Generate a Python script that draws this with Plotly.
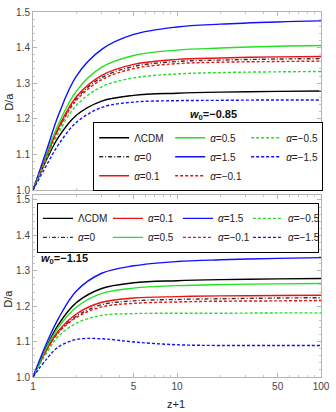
import plotly.graph_objects as go

# z+1 sample points
zp1 = [1, 1.25, 1.5, 2, 3, 5, 10, 20, 50, 100]

# LCDM reference (same in both panels)
lcdm = [1.0, 1.088, 1.148, 1.210, 1.250, 1.266, 1.272, 1.275, 1.277, 1.278]

# Top panel: w0 = -0.85
top_a0    = [1.0, 1.098, 1.172, 1.257, 1.316, 1.347, 1.361, 1.365, 1.368, 1.369]
top_a01   = [1.0, 1.100, 1.175, 1.262, 1.322, 1.353, 1.367, 1.371, 1.374, 1.375]
top_a05   = [1.0, 1.105, 1.185, 1.278, 1.345, 1.378, 1.393, 1.399, 1.404, 1.406]
top_a15   = [1.0, 1.115, 1.210, 1.320, 1.395, 1.437, 1.458, 1.466, 1.472, 1.475]
top_am01  = [1.0, 1.097, 1.169, 1.252, 1.310, 1.341, 1.355, 1.359, 1.361, 1.362]
top_am05  = [1.0, 1.092, 1.160, 1.238, 1.290, 1.315, 1.326, 1.330, 1.332, 1.333]
top_am15  = [1.0, 1.072, 1.127, 1.190, 1.232, 1.247, 1.251, 1.252, 1.253, 1.253]

# Bottom panel: w0 = -1.15
bot_a0    = [1.0, 1.078, 1.127, 1.172, 1.204, 1.215, 1.219, 1.221, 1.223, 1.224]
bot_a01   = [1.0, 1.080, 1.130, 1.178, 1.211, 1.223, 1.227, 1.229, 1.230, 1.231]
bot_a05   = [1.0, 1.085, 1.140, 1.197, 1.236, 1.251, 1.258, 1.261, 1.263, 1.264]
bot_a15   = [1.0, 1.098, 1.165, 1.243, 1.293, 1.314, 1.326, 1.331, 1.335, 1.337]
bot_am01  = [1.0, 1.077, 1.125, 1.168, 1.198, 1.208, 1.212, 1.214, 1.215, 1.216]
bot_am05  = [1.0, 1.070, 1.115, 1.152, 1.174, 1.179, 1.180, 1.180, 1.181, 1.181]
bot_am15  = [1.0, 1.052, 1.085, 1.106, 1.108, 1.099, 1.091, 1.089, 1.089, 1.089]

x_ticks = [1, 5, 10, 50, 100]
x_minor = [2, 3, 4, 6, 7, 8, 9, 20, 30, 40, 60, 70, 80, 90]

BLACK, RED, GREEN, BLUE = "#000000", "#ee1111", "#22e022", "#1010ff"
DASH = "3px,2px"
DASHDOT = "4px,2px,1px,2px"

FONT = "Liberation Sans, Arial, sans-serif"

# name, color, dash, top data, bottom data, top rank, bottom rank
series = [
    ("ΛCDM", BLACK, "solid", lcdm, lcdm, 1, 1),
    ("<i>α</i>=0", "#333333", DASHDOT, top_a0, bot_a0, 4, 5),
    ("<i>α</i>=0.1", RED, "solid", top_a01, bot_a01, 7, 2),
    ("<i>α</i>=0.5", GREEN, "solid", top_a05, bot_a05, 2, 6),
    ("<i>α</i>=1.5", BLUE, "solid", top_a15, bot_a15, 5, 3),
    ("<i>α</i>=−0.1", RED, DASH, top_am01, bot_am01, 8, 7),
    ("<i>α</i>=−0.5", GREEN, DASH, top_am05, bot_am05, 3, 4),
    ("<i>α</i>=−1.5", BLUE, DASH, top_am15, bot_am15, 6, 8),
]

fig = go.Figure()
for name, col, dash, yt, yb, rt, rb in series:
    fig.add_trace(go.Scatter(
        x=zp1, y=yt, mode="lines", name=name, xaxis="x", yaxis="y",
        line=dict(color=col, width=1.4, dash=dash, shape="spline", smoothing=1.0),
        legend="legend", legendrank=rt))
    fig.add_trace(go.Scatter(
        x=zp1, y=yb, mode="lines", name=name, xaxis="x2", yaxis="y2",
        line=dict(color=col, width=1.4, dash=dash, shape="spline", smoothing=1.0),
        legend="legend2", legendrank=rb))

axis_common = dict(
    showline=True, mirror="allticks", linecolor="#b4b4b4", linewidth=1,
    ticks="inside", tickcolor="#b4b4b4", ticklen=4, tickwidth=1,
    showgrid=False, zeroline=False,
    tickfont=dict(family=FONT, size=10, color="#444444"),
)

xaxis_common = dict(axis_common, type="log", range=[0, 2], tickvals=x_ticks,
                    ticktext=[str(v) for v in x_ticks],
                    minor=dict(tickvals=x_minor, ticks="inside", ticklen=2,
                               tickcolor="#c4c4c4", showgrid=False))

yaxis_common = dict(axis_common,
                    minor=dict(dtick=0.02, ticks="inside", ticklen=2,
                               tickcolor="#c4c4c4", showgrid=False))

H = 412
mt, mb = 6, 35
ph = H - mt - mb
top_dom = [(ph - (187 - mt)) / ph, 1.0]
bot_dom = [0.0, (377 - 192) / ph]

legend_common = dict(
    orientation="h", xanchor="left", yanchor="top",
    bgcolor="white", bordercolor="black", borderwidth=1,
    font=dict(family=FONT, size=10, color="#222222"),
    entrywidthmode="pixels", traceorder="normal",
)

fig.update_layout(
    width=336, height=H,
    margin=dict(l=33, r=11, t=mt, b=mb),
    paper_bgcolor="white", plot_bgcolor="white",
    font=dict(family=FONT, size=11, color="#222222"),
    xaxis=dict(xaxis_common, domain=[0, 1], anchor="y", showticklabels=False),
    yaxis=dict(yaxis_common, domain=top_dom, range=[1.0, 1.5], anchor="x",
               tickvals=[1.0, 1.1, 1.2, 1.3, 1.4, 1.5],
               ticktext=["1.0", "1.1", "1.2", "1.3", "1.4", "1.5"]),
    xaxis2=dict(xaxis_common, domain=[0, 1], anchor="y2", matches="x"),
    yaxis2=dict(yaxis_common, domain=bot_dom, range=[1.0, 1.514], anchor="x2",
                tickvals=[1.0, 1.1, 1.2, 1.3, 1.4, 1.5],
                ticktext=["1.0", "1.1", "1.2", "1.3", "1.4", "1.5"]),
    legend=dict(legend_common, x=(94 - 33) / 292, y=(377 - 118) / ph, entrywidth=31),
    legend2=dict(legend_common, x=(37 - 33) / 292, y=(377 - 200) / ph, entrywidth=25),
    showlegend=True,
)

def ann(text, px, py, size=11, angle=0, color="#222222"):
    return dict(text=text, xref="paper", yref="paper",
                x=(px - 33) / 292, y=(377 - py) / ph,
                xanchor="center", yanchor="middle", textangle=angle,
                showarrow=False, font=dict(family=FONT, size=size, color=color))

annotations = [
    ann("<b><i>w</i><sub>0</sub>=−0.85</b>", 216, 111, color="#111111"),
    ann("<b><i>w</i><sub>0</sub>=−1.15</b>", 65, 257, color="#111111"),
    ann("D/a", 8, 97, angle=-90),
    ann("D/a", 8, 297, angle=-90),
    ann("z+1", 178, 404),
]
fig.update_layout(annotations=annotations)

fig.write_html(
    "out.html",
    config={"displayModeBar": False},
    post_script="document.body.style.margin='0px';document.body.style.overflow='hidden';",
)
